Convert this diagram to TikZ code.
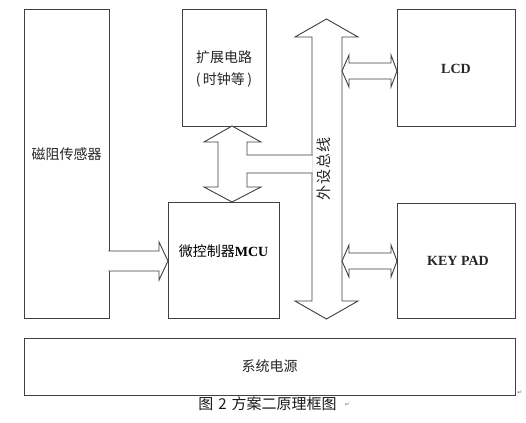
\documentclass[tikz,border=0pt]{standalone}
\usepackage{fontspec}
\setmainfont{Liberation Serif}
\newfontfamily\cjk{Noto Sans CJK SC}
\newfontfamily\symf{DejaVu Sans}
\begin{document}
\begin{tikzpicture}[x=1pt,y=-1pt,
  ln/.style={draw=black!75, line width=0.9pt},
  box/.style={ln, rectangle, inner sep=0pt},
  cn/.style={font=\cjk\fontsize{14}{22}\selectfont, text=black!85, align=center},
  en/.style={font=\bfseries\fontsize{14}{16}\selectfont, text=black!85},
  blk/.style={ln, fill=white, line join=miter},
  retmark/.style={font=\symf\fontsize{6}{7}\selectfont, text=black!55, inner sep=0pt}]
\useasboundingbox[fill=white] (0,0) rectangle (526,422);

% boxes
\node[box, minimum width=85pt, minimum height=309pt,
      label={[cn, yshift=9pt]center:磁阻传感器}] (sen) at (66.5,163.5) {};
\node[box, minimum width=84pt, minimum height=117pt,
      label={[cn, yshift=-1.5pt]center:扩展电路\\(\,时钟等\,)}] (exp) at (224,67.5) {};
\node[box, minimum width=111pt, minimum height=116pt,
      label={[yshift=9pt]center:{\cjk\fontsize{14}{16}\selectfont 微控制器}{\bfseries\fontsize{14}{16}\selectfont MCU}}] (mcu) at (223.5,260) {};
\node[box, minimum width=118pt, minimum height=117pt,
      label={[en, yshift=-1pt]center:LCD}] (lcd) at (456,67.5) {};
\node[box, minimum width=118pt, minimum height=115pt,
      label={[en, xshift=2pt]center:KEY PAD}] (key) at (456,260.5) {};
\node[box, minimum width=491pt, minimum height=57pt,
      label={[cn]center:系统电源}] (pwr) at (269.5,366.5) {};

% peripheral bus (double block arrow)
\draw[blk] (326.5,19) -- (358,37) -- (342,37) -- (342,301) -- (358,301)
  -- (326.5,319) -- (295,301) -- (312,301) -- (312,37) -- (295,37) -- cycle;
\node[cn, rotate=90, font=\cjk\fontsize{15}{17}\selectfont\addfontfeature{LetterSpace=5}] (bus) at (323.5,169) {外设总线};

% expansion <-> MCU with branch to bus
\draw[blk] (312.6,155) -- (247,155) -- (247,142) -- (261,142) -- (232,126)
  -- (204,142) -- (218,142) -- (218,187) -- (204,187) -- (232,202)
  -- (261,187) -- (247,187) -- (247,173) -- (312.6,173);

% sensor -> MCU
\draw[blk] (108.4,251) -- (159,251) -- (159,242) -- (168,261) -- (159,280)
  -- (159,271) -- (108.4,271);

% bus <-> LCD
\draw[blk] (342,71) -- (349,55) -- (349,63) -- (391,63) -- (391,55) -- (397,71)
  -- (391,87) -- (391,79) -- (349,79) -- (349,87) -- cycle;
% bus <-> KEY PAD
\draw[blk] (342,261) -- (349,245) -- (349,253) -- (391,253) -- (391,245) -- (397,261)
  -- (391,277) -- (391,269) -- (349,269) -- (349,277) -- cycle;

% caption
\node[font=\cjk\fontsize{15}{17}\selectfont, text=black!90, inner sep=0pt] (cap) at (267.5,403.5)
  {图\hspace{5pt}2\hspace{5pt}方案二原理框图};
\node[retmark] (m1) at (347.5,405) {↵};
\node[retmark] (m2) at (520,393) {↵};
\end{tikzpicture}
\end{document}
